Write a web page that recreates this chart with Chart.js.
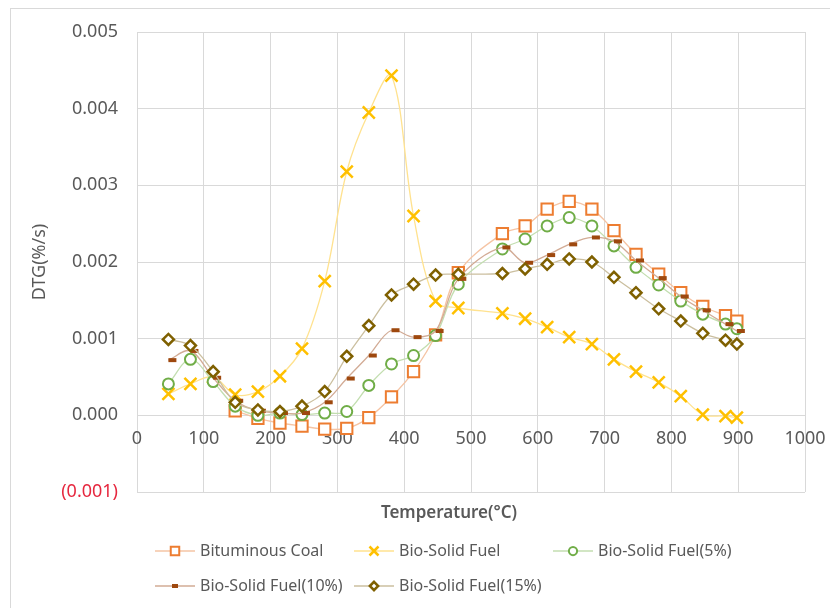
<!DOCTYPE html>
<html>
<head>
<meta charset="utf-8">
<script src="https://cdn.jsdelivr.net/npm/chart.js"></script>
<style>
  html, body { margin: 0; padding: 0; background: #fff; overflow: hidden; }
  #wrap { position: relative; width: 830px; height: 608px; overflow: hidden; }
  #frame { position: absolute; left: 10px; top: 8px; width: 900px; height: 700px; border: 1px solid #d9d9d9; }
  #c { position: absolute; left: 0; top: 0; }
</style>
</head>
<body>
<div id="wrap"><div id="frame"></div><canvas id="c" width="830" height="608"></canvas></div>
<script>
// DTG 곡선 — 온도별 DTG(%/s), 혼합비별 비교

const temps = [47, 80, 114, 147, 181, 214, 247, 281, 314, 347, 381, 414, 447, 481, 547, 581, 614, 647, 681, 714, 747, 781, 814, 847, 881, 898];

const bituminousCoal = [null, null, null, 0.00006, -0.00004, -0.00010, -0.00014, -0.00018, -0.00017, -0.00003, 0.00024, 0.00057, 0.00105,
  0.00186, 0.00237, 0.00247, 0.00269, 0.00279, 0.00269, 0.00241, 0.00210, 0.00184, 0.00160, 0.00142, 0.00130, 0.00123];
const bioSolidFuel = [0.00028, 0.00041, 0.00050, 0.00027, 0.00031, 0.00051, 0.00087, 0.00175, 0.00318, 0.00395, 0.00443, 0.00260, 0.00149,
  0.00140, 0.00133, 0.00126, 0.00115, 0.00102, 0.00093, 0.00073, 0.00057, 0.00043, 0.00025, 0.00001, -0.00001, -0.00003];
const bio5 = [0.00041, 0.00073, 0.00044, 0.00012, 0.00000, 0.00003, 0.00001, 0.00003, 0.00005, 0.00039, 0.00067, 0.00078, 0.00104,
  0.00171, 0.00217, 0.00230, 0.00247, 0.00258, 0.00247, 0.00221, 0.00193, 0.00170, 0.00149, 0.00132, 0.00119, 0.00113];
const bio10 = [0.00072, 0.00084, 0.00049, 0.00019, 0.00006, 0.00003, 0.00003, 0.00017, 0.00048, 0.00078, 0.00111, 0.00102, 0.00110,
  0.00178, 0.00219, 0.00199, 0.00209, 0.00223, 0.00232, 0.00227, 0.00202, 0.00179, 0.00155, 0.00137, 0.00119, 0.00110];
const bio15 = [0.00099, 0.00091, 0.00057, 0.00017, 0.00007, 0.00005, 0.00012, 0.00031, 0.00077, 0.00117, 0.00157, 0.00171, 0.00183,
  0.00184, 0.00185, 0.00191, 0.00197, 0.00204, 0.00200, 0.00180, 0.00160, 0.00139, 0.00123, 0.00107, 0.00098, 0.00093];

const yTicks = { min: -0.001, max: 0.005, step: 0.001 };
const xTicks = { min: 0, max: 1000, step: 100 };

// 시리즈 스타일 (엑셀 기본 팔레트 느낌)
const SERIES = [
  { label: 'Bituminous Coal',     values: bituminousCoal, line: '#f5c4a4', mark: '#ed7d31', fill: '#fff',    style: 'rect',     r: 8,   bw: 2 },
  { label: 'Bio-Solid Fuel',      values: bioSolidFuel,   line: '#ffe28f', mark: '#ffc000', fill: '#ffc000', style: 'crossRot', r: 8.5, bw: 2.5 },
  { label: 'Bio-Solid Fuel(5%)',  values: bio5,           line: '#c3deb0', mark: '#70ad47', fill: '#fff',    style: 'circle',   r: 5.5, bw: 2 },
  { label: 'Bio-Solid Fuel(10%)', values: bio10,          line: '#d2ab95', mark: '#9e480e', fill: '#9e480e', style: 'dash',     r: 8,   bw: 4 },
  { label: 'Bio-Solid Fuel(15%)', values: bio15,          line: '#cbbf9f', mark: '#7f6000', fill: '#fff',    style: 'rectRot',  r: 5.5, bw: 2.5 },
];

const TEXT = '#595959';
const GRID = '#d9d9d9';
Chart.defaults.font.family = "'Noto Sans', sans-serif";

const datasets = SERIES.map((s, i) => ({
  label: s.label,
  data: temps.map((t, k) => ({ x: t, y: s.values[k] })),
  borderColor: s.line,
  borderWidth: 1.3,
  tension: 0.35,
  pointStyle: s.style,
  pointRadius: s.r,
  pointBorderWidth: s.bw,
  pointBorderColor: s.mark,
  pointBackgroundColor: s.fill,
  order: SERIES.length - i,   // 뒤 시리즈가 위에 그려지도록
}));

// 엑셀식 범례 (3열 고정 칸) + x축 제목
const excelLegend = {
  id: 'excelLegend',
  afterDraw(chart) {
    const { ctx, chartArea } = chart;
    ctx.save();
    ctx.font = "16px 'Noto Sans', sans-serif";
    ctx.textBaseline = 'middle';
    chart.data.datasets.forEach((ds, i) => {
      const x0 = chartArea.left + 18 + (i % 3) * 199;
      const y = chartArea.bottom + 59 + Math.floor(i / 3) * 35;
      ctx.strokeStyle = ds.borderColor;
      ctx.lineWidth = 1.5;
      ctx.beginPath();
      ctx.moveTo(x0, y);
      ctx.lineTo(x0 + 40, y);
      ctx.stroke();
      ctx.strokeStyle = ds.pointBorderColor;
      ctx.fillStyle = ds.pointBackgroundColor;
      ctx.lineWidth = ds.pointBorderWidth;
      const r = ds.pointRadius * 0.75;
      const cx = ds.pointStyle === 'dash' ? x0 + 20 - r / 2 : x0 + 20;
      Chart.helpers.drawPoint(ctx, { pointStyle: ds.pointStyle, radius: r, borderWidth: ds.pointBorderWidth, rotation: 0 }, cx, y);
      ctx.fillStyle = TEXT;
      ctx.textAlign = 'left';
      ctx.fillText(ds.label, x0 + 45, y);
    });
    ctx.font = "600 17px 'Noto Sans', sans-serif";
    ctx.fillStyle = TEXT;
    ctx.textAlign = 'center';
    ctx.fillText('Temperature(°C)', (chartArea.left + chartArea.right) / 2 - 22, chartArea.bottom + 21);
    ctx.restore();
  }
};

new Chart(document.getElementById('c'), {
  type: 'line',
  data: { datasets },
  plugins: [excelLegend],
  options: {
    responsive: false,
    animation: false,
    layout: { padding: { left: 0, right: 25, top: 32, bottom: 116 } },
    plugins: {
      legend: { display: false },
      tooltip: { enabled: false },
    },
    scales: {
      x: {
        type: 'linear',
        min: xTicks.min, max: xTicks.max,
        position: { y: 0 },
        ticks: { stepSize: xTicks.step, padding: 13, color: TEXT, font: { size: 18 }, maxRotation: 0, callback: v => String(v) },
        grid: { color: GRID, drawTicks: false },
        border: { color: GRID },
        // 눈금 padding이 오른쪽 여백까지 키우지 않도록
        afterFit: s => { s.paddingRight = 20; },
      },
      y: {
        min: yTicks.min, max: yTicks.max,
        ticks: {
          stepSize: yTicks.step,
          padding: 19,
          font: { size: 18 },
          color: c => c.tick.value < -1e-9 ? '#e6283f' : TEXT,
          callback: v => v < -1e-9 ? `(${Math.abs(v).toFixed(3)})` : Math.abs(v).toFixed(3),
        },
        grid: { color: GRID, drawTicks: false },
        border: { display: false },
        title: { display: true, text: 'DTG(%/s)', color: TEXT, font: { size: 18 }, padding: { top: 29, bottom: 0 } },
        afterFit: s => { s.width = 137; },
      },
    },
  },
});
</script>
</body>
</html>
